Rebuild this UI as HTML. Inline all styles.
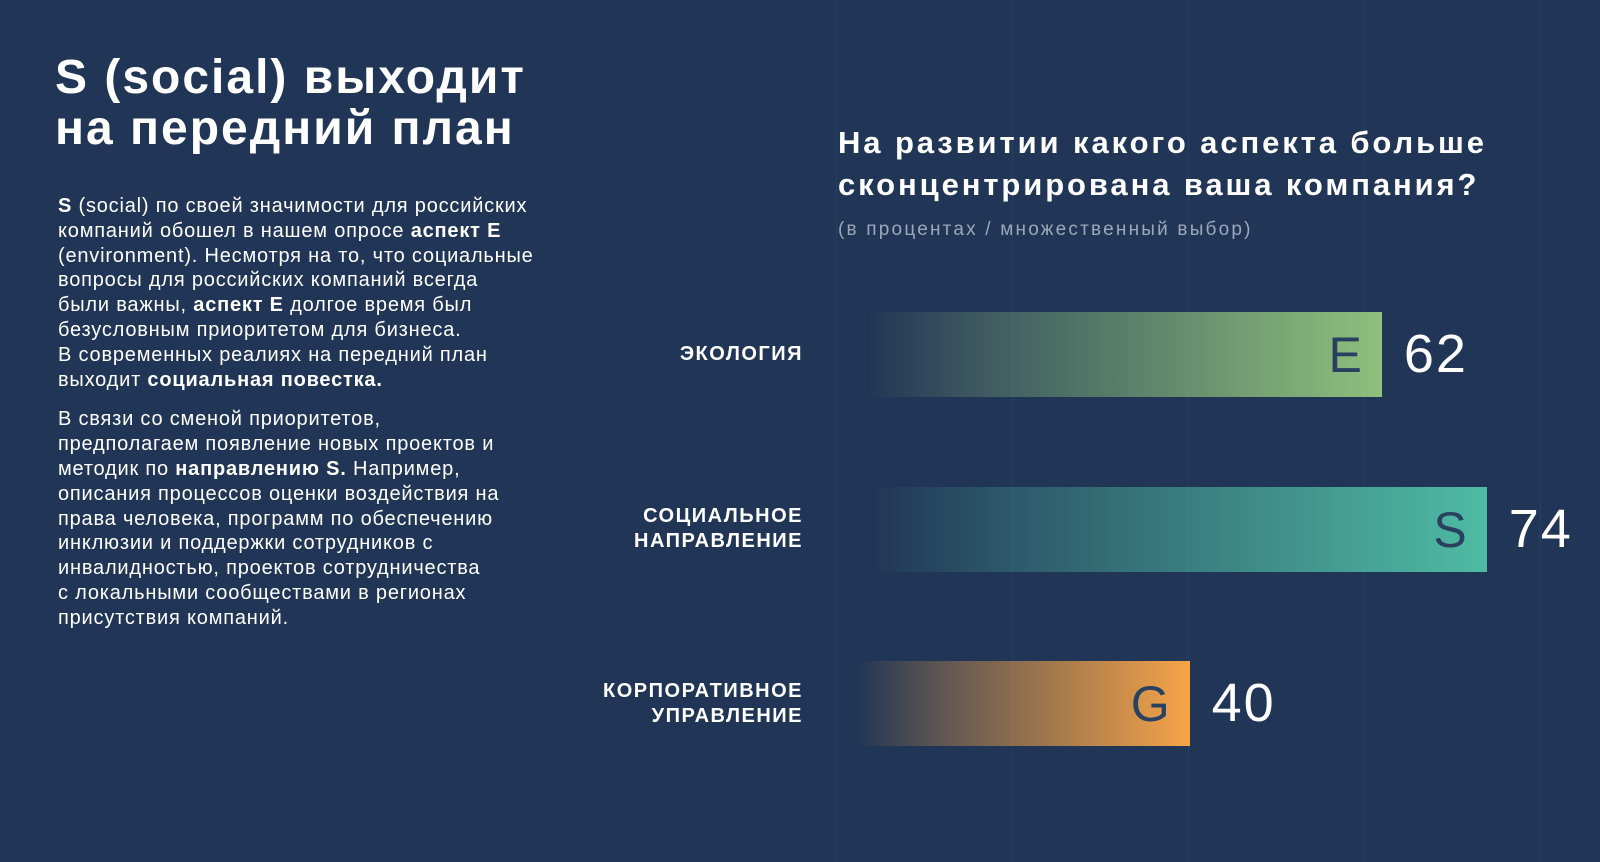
<!DOCTYPE html>
<html><head><meta charset="utf-8">
<style>
html,body{margin:0;padding:0}
body{width:1600px;height:862px;background:#213656;position:relative;overflow:hidden;font-family:"Liberation Sans","Noto Sans CJK SC",sans-serif;color:#fff}
.gl{position:absolute;top:0;height:862px;width:1px;background:#26405f}
h1{position:absolute;left:55px;top:52px;margin:0;font-size:48px;line-height:51px;font-weight:bold;letter-spacing:2px}
.body{position:absolute;left:58px;top:194px;width:540px;font-size:20px;line-height:24.8px;letter-spacing:0.8px;white-space:nowrap}
.body p{margin:0 0 15px 0}
.ct{position:absolute;left:838px;top:122px;margin:0;font-size:31px;line-height:42px;font-weight:bold;letter-spacing:2.9px;white-space:nowrap}
.sub{position:absolute;left:838px;top:219px;font-size:19px;color:#9ba7ba;letter-spacing:2.2px;white-space:nowrap}
.lab{position:absolute;right:797px;font-size:20px;font-weight:bold;text-align:right;line-height:25px;letter-spacing:1.5px;white-space:nowrap}
</style></head><body>
<div id="grid"></div>
<h1>S (social) выходит<br>на передний план</h1>
<div class="body">
<p><b>S</b> (social) по своей значимости для российских<br>компаний обошел в нашем опросе <b>аспект E</b><br>(environment). Несмотря на то, что социальные<br>вопросы для российских компаний всегда<br>были важны, <b>аспект E</b> долгое время был<br>безусловным приоритетом для бизнеса.<br>В современных реалиях на передний план<br>выходит <b>социальная повестка.</b></p>
<p>В связи со сменой приоритетов,<br>предполагаем появление новых проектов и<br>методик по <b>направлению S.</b> Например,<br>описания процессов оценки воздействия на<br>права человека, программ по обеспечению<br>инклюзии и поддержки сотрудников с<br>инвалидностью, проектов сотрудничества<br>с локальными сообществами в регионах<br>присутствия компаний.</p>
</div>
<div class="ct">На развитии какого аспекта больше<br>сконцентрирована ваша компания?</div>
<div class="sub">(в процентах / множественный выбор)</div>
<div id="chart"></div>
<script>
const categories=["ЭКОЛОГИЯ","СОЦИАЛЬНОЕ<br>НАПРАВЛЕНИЕ","КОРПОРАТИВНОЕ<br>УПРАВЛЕНИЕ"];
const values=[62,74,40];
const letters=["E","S","G"];
const colors=["#8fc07c","#4fbba4","#f6a448"];
const x0=840, perUnit=8.74, barH=85;
function xs(v){return x0+v*perUnit;}
function ys(i){return 312+i*174.5;}
const grid=document.getElementById('grid');
for(let k=0;k<5;k++){
  const g=document.createElement('div');g.className='gl';g.style.left=(836+k*176)+'px';
  
  
  grid.appendChild(g);
}
const ch=document.getElementById('chart');
values.forEach((v,i)=>{
  const y=ys(i), w=xs(v)-x0;
  const b=document.createElement('div');
  
  
  b.style.cssText=`position:absolute;left:${x0}px;top:${y}px;width:${w}px;height:${barH}px;background:linear-gradient(90deg,rgba(33,54,86,0) 0%,rgba(33,54,86,0) 5%,${colors[i]}40 25%,${colors[i]}99 60%,${colors[i]} 100%);`;
  ch.appendChild(b);
  const l=document.createElement('div');
  
  
  l.textContent=letters[i];
  l.style.cssText=`position:absolute;left:${xs(v)-85}px;top:${y+14}px;width:65px;text-align:right;font-size:50px;line-height:58px;color:#2a4060`;
  ch.appendChild(l);
  const t=document.createElement('div');
  
  
  t.textContent=v;
  t.style.cssText=`position:absolute;left:${xs(v)+22}px;top:${y+13}px;font-size:54px;line-height:58px;color:#fff;letter-spacing:2px`;
  ch.appendChild(t);
  const c=document.createElement('div');c.className='lab';
  
  
  c.innerHTML=categories[i];
  const lines=categories[i].split('<br>').length;
  c.style.top=(y+barH/2-lines*12.5)+'px';
  ch.appendChild(c);
});
</script>
</body></html>
